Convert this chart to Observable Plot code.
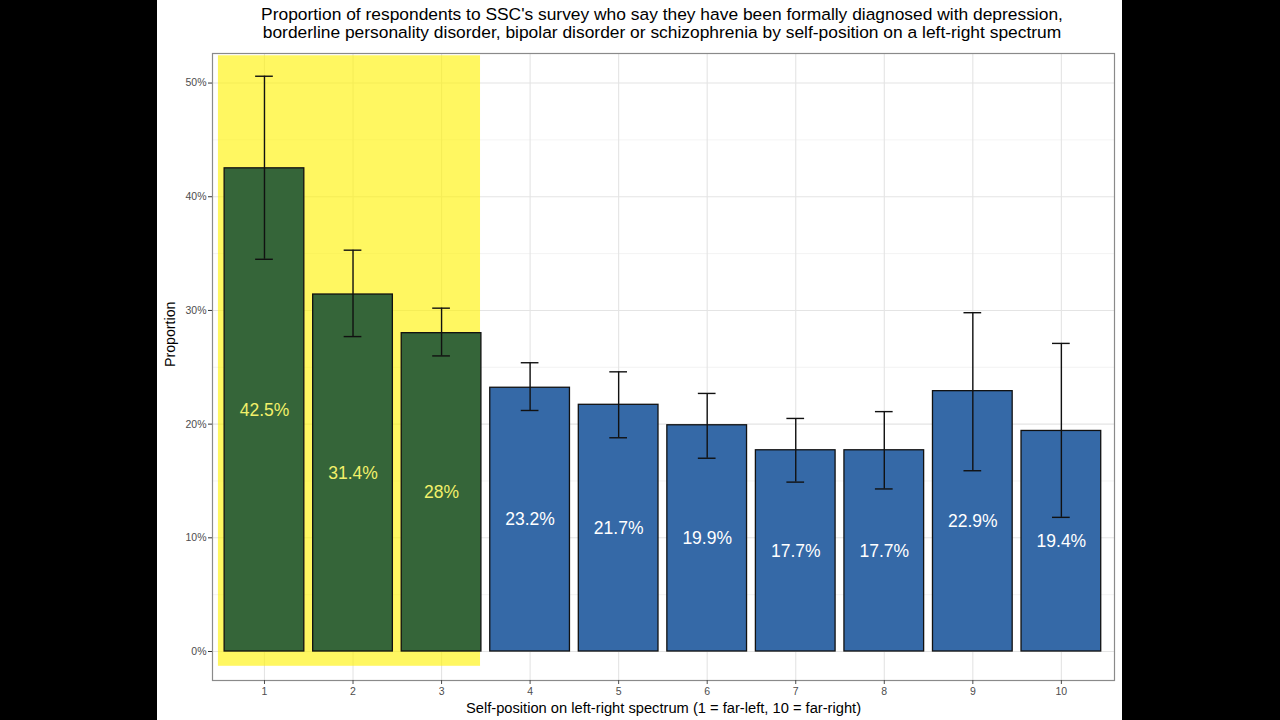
<!DOCTYPE html>
<html>
<head>
<meta charset="utf-8">
<script src="https://cdn.jsdelivr.net/npm/d3@7"></script>
<script src="https://cdn.jsdelivr.net/npm/@observablehq/plot@0.6"></script>
<style>
  html, body { margin: 0; padding: 0; background: #000; width: 1280px; height: 720px; overflow: hidden; }
  #card { position: absolute; left: 157px; top: 0; width: 965px; height: 720px; background: #fff; font-family: "Liberation Sans", Arial, sans-serif; }
  #title { height: 48px; text-align: center; font-size: 17.4px; line-height: 18px; color: #000; padding-top: 5px; box-sizing: border-box; padding-left: 45px; white-space: nowrap; }
  svg { display: block; }
</style>
</head>
<body>
<div id="card">
  <div id="title">Proportion of respondents to SSC's survey who say they have been formally diagnosed with depression,<br>borderline personality disorder, bipolar disorder or schizophrenia by self-position on a left-right spectrum</div>
  <div id="chart"></div>
</div>
<script>
const positions = [1, 2, 3, 4, 5, 6, 7, 8, 9, 10];
const proportions = [42.5, 31.4, 28, 23.2, 21.7, 19.9, 17.7, 17.7, 22.9, 19.4];
const lowerCI = [34.5, 27.7, 26.0, 21.2, 18.8, 17.0, 14.9, 14.3, 15.9, 11.8];
const upperCI = [50.6, 35.3, 30.2, 25.4, 24.6, 22.7, 20.5, 21.1, 29.8, 27.1];
const labels = ["42.5%", "31.4%", "28%", "23.2%", "21.7%", "19.9%", "17.7%", "17.7%", "22.9%", "19.4%"];
const highlighted = [true, true, true, false, false, false, false, false, false, false];
const highlightX = [0.48, 3.44];
const highlightY = [-1.3, 52.4];
const yTicks = [0, 10, 20, 30, 40, 50];
const yMinorTicks = [5, 15, 25, 35, 45];

const data = positions.map((p, i) => ({
  pos: p, value: proportions[i], lo: lowerCI[i], hi: upperCI[i],
  label: labels[i], hl: highlighted[i]
}));
const highlightBox = [{x1: highlightX[0], x2: highlightX[1], y1: highlightY[0], y2: highlightY[1]}];

const barHalf = 0.45;
const capHalf = 0.1;

const plot = Plot.plot({
  width: 965,
  height: 672,
  marginTop: 5,
  marginBottom: 40,
  marginLeft: 55,
  marginRight: 8,
  style: { fontFamily: "Liberation Sans, Arial, sans-serif", background: "#fff" },
  x: { type: "linear", domain: [0.413, 10.6], ticks: positions, tickFormat: d => String(d), label: null, tickSize: 4 },
  y: { domain: [-2.55, 52.6], ticks: yTicks, tickFormat: d => d + "%", label: null, tickSize: 4 },
  marks: [
    Plot.gridY(yMinorTicks, { stroke: "#ebebeb", strokeOpacity: 1, strokeWidth: 0.6 }),
    Plot.gridY(yTicks, { stroke: "#e4e4e4", strokeOpacity: 1, strokeWidth: 1.1 }),
    Plot.gridX(positions, { stroke: "#e4e4e4", strokeOpacity: 1, strokeWidth: 1.1 }),
    Plot.rect(highlightBox, { x1: "x1", x2: "x2", y1: "y1", y2: "y2", fill: "#fff200", fillOpacity: 0.62 }),
    Plot.rect(data, {
      x1: d => d.pos - barHalf, x2: d => d.pos + barHalf, y1: 0, y2: "value",
      fill: d => d.hl ? "#356539" : "#3569a7", stroke: "#111", strokeWidth: 1.3
    }),
    Plot.ruleX(data, { x: "pos", y1: "lo", y2: "hi", stroke: "#111", strokeWidth: 1.4 }),
    Plot.ruleY(data, { y: "hi", x1: d => d.pos - capHalf, x2: d => d.pos + capHalf, stroke: "#111", strokeWidth: 1.4 }),
    Plot.ruleY(data, { y: "lo", x1: d => d.pos - capHalf, x2: d => d.pos + capHalf, stroke: "#111", strokeWidth: 1.4 }),
    Plot.text(data, {
      x: "pos", y: d => d.value / 2, text: "label",
      fill: d => d.hl ? "#f2f06a" : "#ffffff", fontSize: 17.5
    }),
    Plot.frame({ stroke: "#8a8a8a", strokeWidth: 1.2 }),
    Plot.axisY({ ticks: yTicks, tickFormat: d => d + "%", tickSize: 4, tickPadding: 2, fontSize: 10.5, color: "#4d4d4d", stroke: "#333" }),
    Plot.axisX({ ticks: positions, tickFormat: d => String(d), tickSize: 4, tickPadding: 3, fontSize: 10.5, color: "#4d4d4d" }),
    Plot.text(["Self-position on left-right spectrum (1 = far-left, 10 = far-right)"], {
      frameAnchor: "bottom", dy: 32, text: d => d, fontSize: 14.7, fill: "#000"
    }),
    Plot.text(["Proportion"], {
      frameAnchor: "left", dx: -42, rotate: -90, text: d => d, fontSize: 14.2, fill: "#000"
    })
  ]
});
document.getElementById("chart").appendChild(plot);
</script>
</body>
</html>
